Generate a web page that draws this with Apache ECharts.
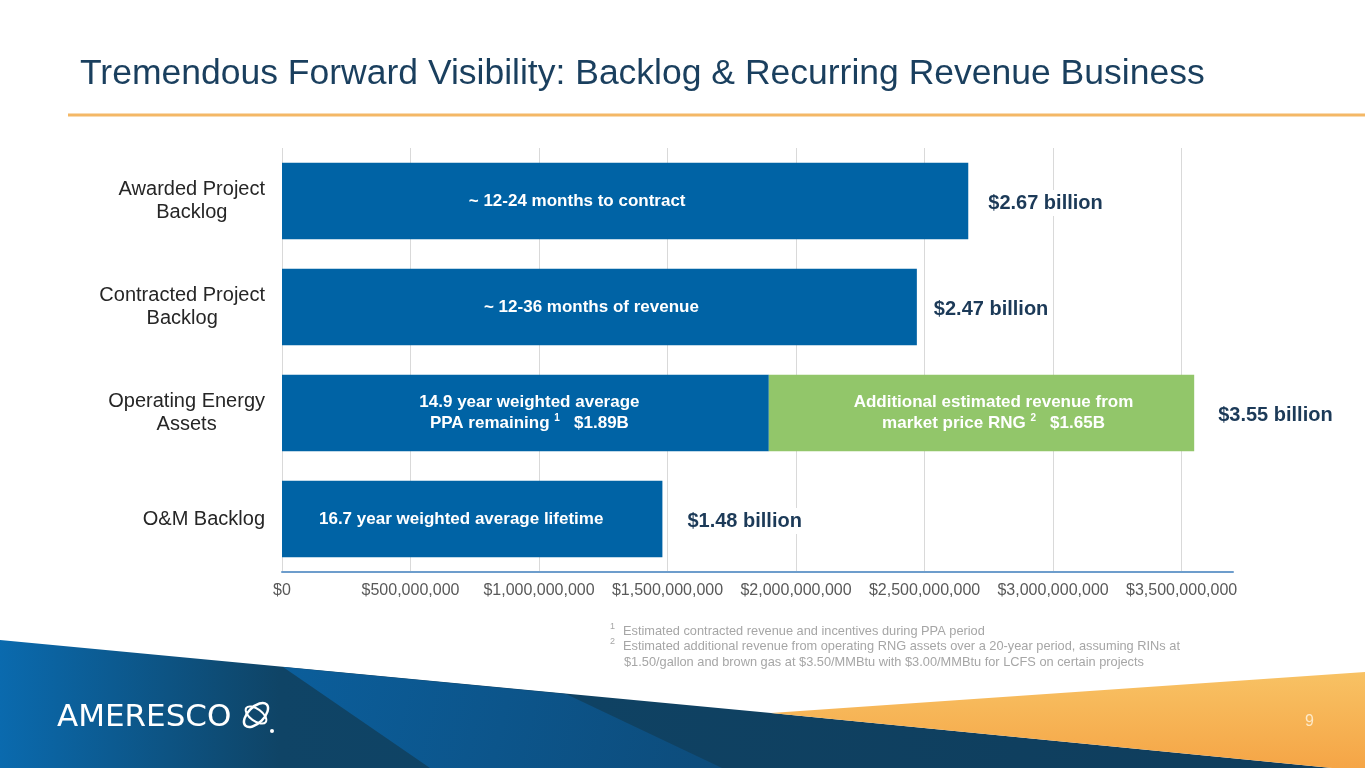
<!DOCTYPE html>
<html><head><meta charset="utf-8">
<script src="https://cdn.jsdelivr.net/npm/echarts@6/dist/echarts.min.js"></script>
<style>html,body{margin:0;padding:0;background:#fff}#chart{width:1365px;height:768px}</style>
</head><body><div id="chart"></div>
<script>
// ---- data ----
const categories = ['Awarded Project\nBacklog', 'Contracted Project\nBacklog', 'Operating Energy\nAssets', 'O&M Backlog'];
const contractedRevenue = [2.67e9, 2.47e9, 1.894e9, 1.48e9];
const rngRevenue = [0, 0, 1.655e9, 0];
const barTexts = ['~ 12-24 months to contract', '~ 12-36 months of revenue', '14.9 year weighted average\nPPA remaining {sup|1}   $1.89B', '16.7 year weighted average lifetime'];
const rngTexts = ['', '', 'Additional estimated revenue from\nmarket price RNG {sup|2}   $1.65B', ''];
const totalLabels = ['$2.67 billion', '$2.47 billion', '$3.55 billion', '$1.48 billion'];
const xTickStep = 5e8;
const xMax = 3.7e9;

// ---- styles ----
const FONT = '"Liberation Sans", Arial, sans-serif';
const innerOffsets = [[-48, 0], [-8, 0], [4, 0], [-11, 0]];
const rngOffsets = [[0, 0], [0, 0], [12, 0], [0, 0]];
const totalDistances = [18, 15, 22, 23];

const chart = echarts.init(document.getElementById('chart'), null, {renderer: 'canvas'});
const supRich = {sup: {fontSize: 10, color: '#fff', fontWeight: 'bold', fontFamily: FONT, verticalAlign: 'top', lineHeight: 12}};

const option = {
  backgroundColor: '#ffffff',
  animation: false,
  grid: {left: 282, right: 132, top: 148, bottom: 196},
  xAxis: {
    type: 'value', min: 0, max: xMax, interval: xTickStep,
    axisLine: {show: true, lineStyle: {color: '#6d9dcc', width: 2}},
    axisTick: {show: false},
    axisLabel: {
      color: '#595959', fontSize: 16, fontFamily: FONT, margin: 11,
      formatter: v => (v % xTickStep === 0 ? '$' + v.toLocaleString('en-US') : '')
    },
    splitLine: {show: true, showMaxLine: false, lineStyle: {color: '#d9d9d9', width: 1}}
  },
  yAxis: {
    type: 'category', data: categories, inverse: true,
    axisLine: {show: false}, axisTick: {show: false}, splitLine: {show: false},
    axisLabel: {
      margin: 17, align: 'right',
      formatter: v => v.split('\n').map(s => '{c|' + s + '}').join('\n'),
      rich: {c: {align: 'center', fontSize: 20, color: '#262626', fontFamily: FONT, lineHeight: 23}}
    }
  },
  series: [
    {
      type: 'bar', name: 'Contracted', stack: 't', barCategoryGap: '28%',
      itemStyle: {color: '#0063a5'},
      data: contractedRevenue.map((v, i) => ({value: v, label: {offset: innerOffsets[i]}})),
      label: {
        show: true, position: 'inside', color: '#fff', fontSize: 17, fontWeight: 'bold',
        fontFamily: FONT, lineHeight: 21, align: 'center',
        formatter: p => barTexts[p.dataIndex], rich: supRich
      }
    },
    {
      type: 'bar', name: 'RNG', stack: 't',
      itemStyle: {color: '#92c66a'},
      data: rngRevenue.map((v, i) => ({value: v, label: {offset: rngOffsets[i]}})),
      label: {
        show: true, position: 'inside', color: '#fff', fontSize: 17, fontWeight: 'bold',
        fontFamily: FONT, lineHeight: 21, align: 'center',
        formatter: p => rngTexts[p.dataIndex], rich: supRich
      }
    },
    {
      type: 'bar', name: 'Total', stack: 't', silent: true,
      itemStyle: {color: 'rgba(0,0,0,0)'},
      data: totalLabels.map((t, i) => ({value: 0, label: {distance: totalDistances[i]}})),
      label: {
        show: true, position: 'right', color: '#1c3a58', fontSize: 20, fontWeight: 'bold',
        fontFamily: FONT, backgroundColor: '#ffffff', padding: [3, 2], offset: [0, 2],
        formatter: p => totalLabels[p.dataIndex]
      }
    }
  ],
  graphic: [
    {type: 'text', left: 80, top: 56, z: 10,
      style: {text: 'Tremendous Forward Visibility: Backlog & Recurring Revenue Business', fill: '#1a3f5e', font: '35.5px ' + FONT}},
    {type: 'line', z: 10, shape: {x1: 68, y1: 115, x2: 1365, y2: 115}, style: {stroke: '#f4b866', lineWidth: 3}},
    // footnotes
    {type: 'text', x: 610, y: 627, z: 10, style: {text: '1', fill: '#a6a6a6', font: '9px ' + FONT, textVerticalAlign: 'middle'}},
    {type: 'text', x: 623, y: 631, z: 10, style: {text: 'Estimated contracted revenue and incentives during PPA period', fill: '#a6a6a6', font: '12.8px ' + FONT, textVerticalAlign: 'middle'}},
    {type: 'text', x: 610, y: 642, z: 10, style: {text: '2', fill: '#a6a6a6', font: '9px ' + FONT, textVerticalAlign: 'middle'}},
    {type: 'text', x: 623, y: 646, z: 10, style: {text: 'Estimated additional revenue from operating RNG assets over a 20-year period, assuming RINs at', fill: '#a6a6a6', font: '12.8px ' + FONT, textVerticalAlign: 'middle'}},
    {type: 'text', x: 624, y: 662, z: 10, style: {text: '$1.50/gallon and brown gas at $3.50/MMBtu with $3.00/MMBtu for LCFS on certain projects', fill: '#a6a6a6', font: '12.8px ' + FONT, textVerticalAlign: 'middle'}},
    // footer shapes
    {type: 'polygon', z: 1, shape: {points: [[0, 640], [771, 713], [1332, 768], [0, 768]]},
      style: {fill: new echarts.graphic.LinearGradient(0, 0, 1, 0, [
        {offset: 0, color: '#0a6aae'}, {offset: 0.21, color: '#0f4466'}, {offset: 1, color: '#0f3d5c'}])}},
    {type: 'polygon', z: 2, shape: {points: [[283, 667], [566, 694], [722, 768], [430, 768]]},
      style: {fill: new echarts.graphic.LinearGradient(0, 0, 1, 1, [
        {offset: 0, color: '#0b5e9b'}, {offset: 1, color: '#0d4c7b'}])}},
    {type: 'polygon', z: 2, shape: {points: [[771, 713], [1365, 672], [1365, 768], [1332, 768]]},
      style: {fill: new echarts.graphic.LinearGradient(0, 0, 0, 1, [
        {offset: 0, color: '#f8c264'}, {offset: 1, color: '#f5a546'}])}},
    // logo
    {type: 'text', x: 57, y: 718, z: 10, style: {text: 'AMERESCO', fill: '#ffffff', font: '500 31px "DejaVu Sans", sans-serif', textVerticalAlign: 'middle'}},
    {type: 'ellipse', z: 10, x: 256, y: 715, rotation: Math.PI / 4, shape: {cx: 0, cy: 0, rx: 15, ry: 8}, style: {fill: 'none', stroke: '#ffffff', lineWidth: 2.5}},
    {type: 'ellipse', z: 10, x: 256, y: 715, rotation: -Math.PI / 5, shape: {cx: 0, cy: 0, rx: 12, ry: 6}, style: {fill: 'none', stroke: '#ffffff', lineWidth: 2}},
    {type: 'circle', z: 10, shape: {cx: 272, cy: 731, r: 2}, style: {fill: '#ffffff'}},
    {type: 'text', x: 1305, y: 722, z: 10, style: {text: '9', fill: '#fde9c8', font: '16px ' + FONT, textVerticalAlign: 'middle'}}
  ]
};
chart.setOption(option);
</script>
</body></html>
